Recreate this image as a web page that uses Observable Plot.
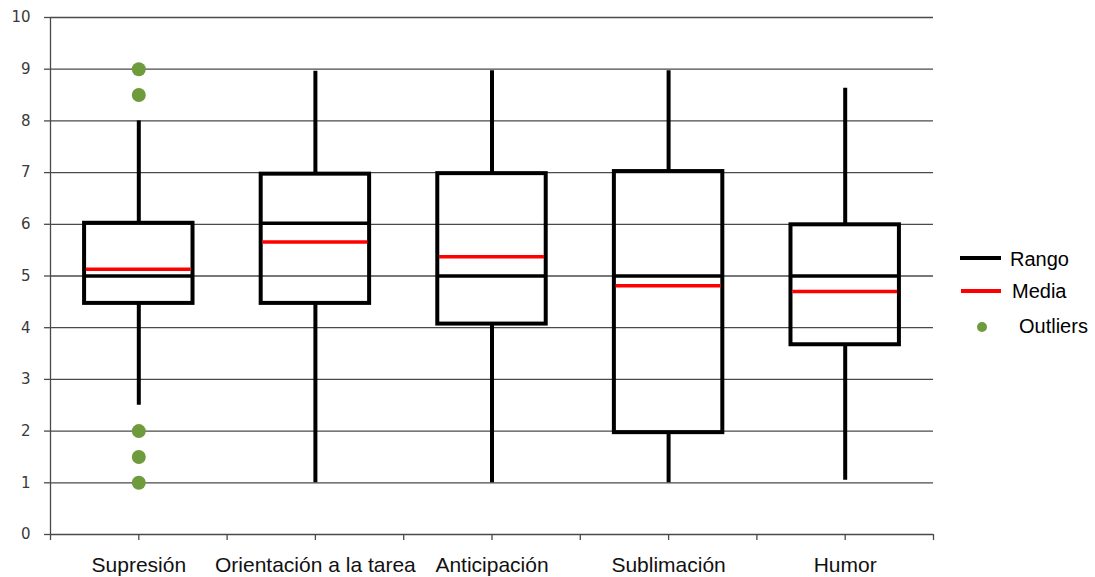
<!DOCTYPE html>
<html>
<head>
<meta charset="utf-8">
<script src="https://cdn.jsdelivr.net/npm/d3@7"></script>
<script src="https://cdn.jsdelivr.net/npm/@observablehq/plot@0.6"></script>
<style>
  html, body { margin: 0; padding: 0; background: #fff; }
  #chart { position: relative; width: 1095px; height: 577px; }
</style>
</head>
<body>
<div id="chart"></div>
<script>
const categories = ["Supresión", "Orientación a la tarea", "Anticipación", "Sublimación", "Humor"];
const lowWhisker = [2.5, 1, 1, 1, 1.05];
const q1 = [4.47, 4.47, 4.07, 1.97, 3.67];
const median = [5, 6.02, 5, 5, 5];
const q3 = [6.02, 6.97, 6.98, 7.02, 5.99];
const highWhisker = [8, 8.96, 8.97, 8.97, 8.63];
const mean = [5.13, 5.66, 5.37, 4.81, 4.7];
const outlierCategory = ["Supresión", "Supresión", "Supresión", "Supresión", "Supresión"];
const outlierValues = [9, 8.5, 2, 1.5, 1];
const yTicks = [0, 1, 2, 3, 4, 5, 6, 7, 8, 9, 10];
const legendLabels = ["Rango", "Media", "Outliers"];

const pos = name => categories.indexOf(name) + 0.5;
const half = 0.307;
const boxes = categories.map((c, i) => ({
  cat: c, pos: pos(c), low: lowWhisker[i], q1: q1[i], median: median[i],
  q3: q3[i], high: highWhisker[i], mean: mean[i]
}));
const outliers = outlierValues.map((v, i) => ({pos: pos(outlierCategory[i]), value: v}));
const xTicks = d3.range(0, categories.length + 0.01, 0.5);

const plot = Plot.plot({
  width: 1095,
  height: 577,
  marginLeft: 50,
  marginRight: 162,
  marginTop: 17,
  marginBottom: 43,
  style: {background: "#fff"},
  x: {type: "linear", domain: [0, categories.length]},
  y: {domain: [0, 10]},
  marks: [
    Plot.ruleY(yTicks, {stroke: "#4a4a4a", strokeWidth: 1.3}),
    Plot.ruleX([0], {stroke: "#4a4a4a", strokeWidth: 1.3}),
    Plot.axisY({
      ticks: yTicks, tickSize: 6, tickPadding: 14, label: null,
      stroke: "#4a4a4a", strokeWidth: 1.3,
      fill: "#3a3a3a", fontSize: 15, fontFamily: "DejaVu Sans"
    }),
    Plot.axisX({
      ticks: xTicks, tickSize: 6, tickPadding: 17, label: null,
      stroke: "#4a4a4a", strokeWidth: 1.3,
      tickFormat: d => (Math.abs(d % 1 - 0.5) < 1e-6 ? categories[Math.floor(d)] : ""),
      fill: "#111", fontSize: 21, fontFamily: "Liberation Sans, Arial, sans-serif"
    }),
    Plot.ruleX(boxes, {x: "pos", y1: "q3", y2: "high", stroke: "#000", strokeWidth: 4}),
    Plot.ruleX(boxes, {x: "pos", y1: "low", y2: "q1", stroke: "#000", strokeWidth: 4}),
    Plot.rect(boxes, {x1: d => d.pos - half, x2: d => d.pos + half, y1: "q1", y2: "q3",
      fill: "none", stroke: "#000", strokeWidth: 4}),
    Plot.ruleY(boxes, {y: "median", x1: d => d.pos - half, x2: d => d.pos + half, stroke: "#000", strokeWidth: 3.5}),
    Plot.ruleY(boxes, {y: "mean", x1: d => d.pos - half + 0.01, x2: d => d.pos + half - 0.01, stroke: "#ff0000", strokeWidth: 3.5}),
    Plot.dot(outliers, {x: "pos", y: "value", r: 7, fill: "#6e9b3c", stroke: "none"})
  ]
});

document.getElementById("chart").appendChild(plot);

// legend on the right
const svg = d3.select(plot);
const lg = svg.append("g")
  .attr("font-family", "Liberation Sans, Arial, sans-serif")
  .attr("font-size", 20).attr("fill", "#000").attr("text-anchor", "start");
lg.append("line").attr("x1", 960).attr("x2", 1001).attr("y1", 258).attr("y2", 258).attr("stroke", "#000").attr("stroke-width", 4);
lg.append("text").attr("x", 1010).attr("y", 266).text(legendLabels[0]);
lg.append("line").attr("x1", 961).attr("x2", 1001).attr("y1", 291).attr("y2", 291).attr("stroke", "#ff0000").attr("stroke-width", 4);
lg.append("text").attr("x", 1012).attr("y", 298).text(legendLabels[1]);
lg.append("circle").attr("cx", 982).attr("cy", 327).attr("r", 5).attr("fill", "#6e9b3c");
lg.append("text").attr("x", 1019).attr("y", 333).text(legendLabels[2]);
</script>
</body>
</html>
